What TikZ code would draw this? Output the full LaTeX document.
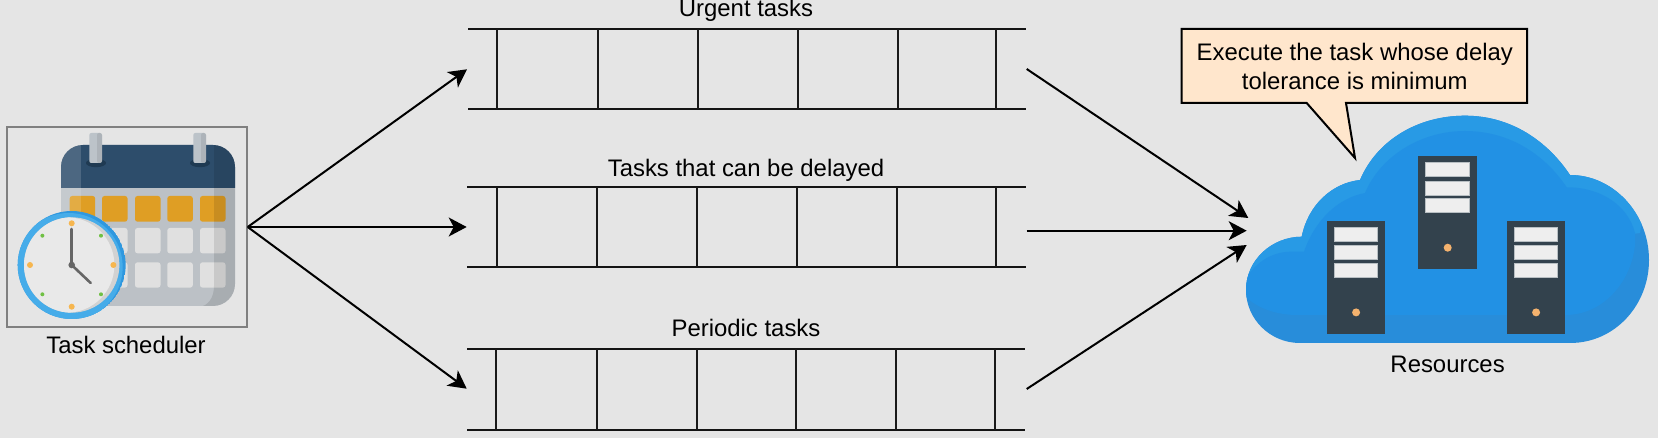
\documentclass[tikz,border=0pt]{standalone}
\usepackage{fontspec}
\setmainfont{Liberation Sans}
\usetikzlibrary{arrows.meta}
\definecolor{bgc}{HTML}{E5E5E5}
\definecolor{calbody}{HTML}{BCC1C6}
\definecolor{calhead}{HTML}{2D4D6B}
\definecolor{calcell}{HTML}{E0E0E0}
\definecolor{calorange}{HTML}{DF9E24}
\definecolor{ringc}{HTML}{BCC3C9}
\definecolor{holec}{HTML}{1F3A52}
\definecolor{clockdark}{HTML}{2F98DF}
\definecolor{clocklight}{HTML}{46ACE9}
\definecolor{facec}{HTML}{E9E9E9}
\definecolor{faced}{HTML}{D2D2D2}
\definecolor{handc}{HTML}{666666}
\definecolor{dotor}{HTML}{F6B64F}
\definecolor{dotgr}{HTML}{70C044}
\definecolor{cloudrim}{HTML}{289AE5}
\definecolor{cloudbody}{HTML}{2291E4}
\definecolor{clouddark}{HTML}{288DDA}
\definecolor{srvc}{HTML}{33424D}
\definecolor{slatc}{HTML}{EEEEEE}
\definecolor{slatl}{HTML}{B8BFC3}
\definecolor{srvdot}{HTML}{F4B26E}
\definecolor{notec}{HTML}{FFE6CC}
\tikzset{
  lanerail/.style={line width=2pt,draw=black!92},
  lanecell/.style={line width=1.8pt,draw=black!90},
  flow/.style={line width=2pt,draw=black,-{Stealth[length=18pt,width=19pt,inset=5pt]}},
  lbl/.style={font=\fontsize{23.9}{29}\selectfont,inner sep=0pt,text=black},
  srvbody/.style={fill=srvc},
  srvslat/.style={fill=slatc,draw=slatl,line width=.6pt},
  schedbox/.style={draw=black!50,line width=2pt,minimum width=240.5pt,minimum height=200pt,inner sep=0pt},
}
\newcommand{\tasklane}[4]{% top, left, right, verticals
  \draw[lanerail] (#2,#1) -- (#3,#1);
  \draw[lanerail] (#2,#1+80) -- (#3,#1+80);
  \foreach \vx in {#4}{\draw[lanecell] (\vx,#1) -- (\vx,#1+80);}
}
\newcommand{\srv}[2]{%
  \begin{scope}[shift={(#1,#2)}]
    \fill[srvbody] (1418.3,156) rectangle (1477,269);
    \draw[srvslat] (1425.7,162.7) rectangle (1469.3,176.7);
    \draw[srvslat] (1425.7,181) rectangle (1469.3,195);
    \draw[srvslat] (1425.7,198.7) rectangle (1469.3,212.7);
    \fill[srvdot] (1447.7,247.7) circle (4);
  \end{scope}}
\begin{document}
\begin{tikzpicture}[x=1pt,y=-1pt]
\useasboundingbox (0,0) rectangle (1658,438);
\fill[bgc] (0,0) rectangle (1658,438);

% scheduler box
\node[schedbox] (sched) at (127,227) {};
% calendar
\begin{scope}
  \def\calshape{(61,188) -- (61,167) arc[start angle=180,end angle=270,radius=22] -- (213,145) arc[start angle=270,end angle=360,radius=22] -- (235,284) arc[start angle=0,end angle=90,radius=22] -- (83,306) arc[start angle=90,end angle=180,radius=22] -- cycle}
  \fill[calbody] \calshape;
  \begin{scope}
    \clip \calshape;
    \fill[calhead] (55,140) rectangle (240,188);
    \foreach \cx in {69.7,102,135,167.3,200}{
      \fill[calorange,rounded corners=2.5pt] (\cx,196) rectangle ++(25.5,25.7);
      \fill[calcell,rounded corners=2.5pt] (\cx,228) rectangle ++(25.5,25.3);
      \fill[calcell,rounded corners=2.5pt] (\cx,262.3) rectangle ++(25.5,25.3);
    }
    \fill[white,opacity=.15] (50,130) -- (81,130) -- (81,330) -- (50,330) -- cycle;
    \fill[black,opacity=.1] (214,130) -- (214,286) .. controls (214,298) and (208,306) .. (199,307) -- (240,310) -- (240,130) -- cycle;
  \end{scope}
  \foreach \rx in {86,190}{
    \fill[holec] (\rx+10,163) ellipse [x radius=10,y radius=4.2];
    \fill[ringc,rounded corners=2pt] (\rx+3.3,133) rectangle ++(12.7,30);
    \fill[black,opacity=.08,rounded corners=2pt] (\rx+11,133) rectangle ++(5,30);
  }
\end{scope}
% clock
\begin{scope}[shift={(71.7,265)}]
  \begin{scope}
    \clip (0,0) circle (54);
    \fill[clockdark] (0,0) circle (54);
    \fill[clocklight] (-3,2) circle (54);
  \end{scope}
  \fill[faced] (0,0) circle (47.7);
  \begin{scope}
    \clip (0,0) circle (47.7);
    \fill[facec] (-5,0) circle (47.7);
  \end{scope}
  \foreach \dx/\dy in {0/-41.7,0/41.7,-41.7/0,41.7/0}{\fill[dotor] (\dx,\dy) circle (3);}
  \foreach \dx/\dy in {-29.3/-29.3,29.3/-29.3,-29.3/29.3,29.3/29.3}{\fill[dotgr] (\dx,\dy) circle (2);}
  \draw[handc,line width=2.6pt,line cap=round] (0,0) -- (0,-36);
  \draw[handc,line width=2.6pt,line cap=round] (0,0) -- (19,18);
  \fill[handc] (0,0) circle (3.3);
\end{scope}
\node[lbl,anchor=base] (schedlabel) at (126,354) {Task scheduler};

% lanes
\tasklane{29}{468}{1026}{497.3,598,698,798,898,996}
\tasklane{187}{467}{1025.7}{497,597.3,697.3,797,897,996}
\tasklane{349.5}{467}{1025}{496.3,596.7,696.7,796.3,896.3,995.3}
\node[lbl,anchor=base] (urgent) at (746,16.5) {Urgent tasks};
\node[lbl,anchor=base] (delayed) at (746,176.7) {Tasks that can be delayed};
\node[lbl,anchor=base] (periodic) at (746,336.7) {Periodic tasks};

% cloud
\def\cloudshape{(1246,290) .. controls (1246,260) and (1272,236.7) .. (1301.7,236.7) .. controls (1308,205) and (1332,183) .. (1360,180) .. controls (1377,140) and (1418,115.7) .. (1465,115.7) .. controls (1512,115.7) and (1548,142) .. (1570,175) .. controls (1613,175) and (1649,213) .. (1649,260) .. controls (1649,305) and (1615,343) .. (1570,343) -- (1300,343) .. controls (1270,343) and (1246,319) .. (1246,290) -- cycle}
\fill[clouddark] \cloudshape;
\begin{scope}
  \clip \cloudshape;
  \fill[cloudrim] (1240,290) -- (1640,233) -- (1660,100) -- (1240,100) -- cycle;
  \fill[cloudbody] (1240,290) .. controls (1250,265) and (1270,252) .. (1290,251.7) -- (1304,251.7) .. controls (1315,220) and (1338,198) .. (1365,193) .. controls (1380,157) and (1420,131) .. (1465,131) .. controls (1510,131) and (1545,155) .. (1566.7,187.3) .. controls (1600,187) and (1628,205) .. (1635,233) .. controls (1638,270) and (1610,315) .. (1565,315) -- (1297,315) .. controls (1272,315) and (1250,305) .. (1240,290) -- cycle;
\end{scope}
\srv{0}{0}
\srv{-91.6}{64.7}
\srv{88.4}{64.7}
\node[lbl,anchor=base] (resources) at (1447.6,373) {Resources};

% callout
\draw[fill=notec,draw=black,line width=2pt,line join=miter] (1181.7,29) -- (1527,29) -- (1527,103) -- (1346,103) -- (1355,158) -- (1306.7,103) -- (1181.7,103) -- cycle;
\node[lbl,align=center] (note) at (1354.8,66) {Execute the task whose delay\\tolerance is minimum};

% connector ends
\coordinate (s) at (247.7,227);
\coordinate (l1in) at (467,69.3);
\coordinate (l2in) at (466.7,227);
\coordinate (l3in) at (466.7,388.7);
\coordinate (l1out) at (1026.7,69);
\coordinate (l2out) at (1026.7,230.7);
\coordinate (l3out) at (1026.7,389);
\coordinate (r1) at (1248.3,218);
\coordinate (r2) at (1246.7,230.7);
\coordinate (r3) at (1246.7,245);
\draw[flow] (s) -- (l1in);
\draw[flow] (s) -- (l2in);
\draw[flow] (s) -- (l3in);
\draw[flow] (l1out) -- (r1);
\draw[flow] (l2out) -- (r2);
\draw[flow] (l3out) -- (r3);
\end{tikzpicture}
\end{document}
